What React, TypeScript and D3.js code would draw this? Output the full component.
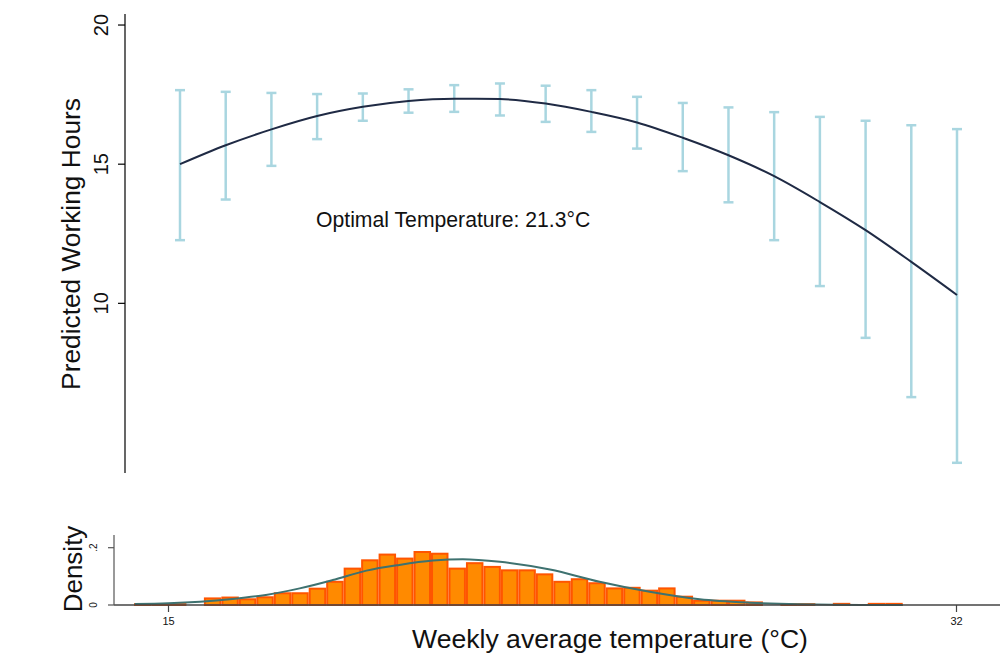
import React, { useEffect } from "react";
import * as d3 from "d3";

// ---- Data ----
const temps = [15, 16, 17, 18, 19, 20, 21, 22, 23, 24, 25, 26, 27, 28, 29, 30, 31, 32];
const predicted = [15.0, 15.68, 16.25, 16.73, 17.06, 17.27, 17.35, 17.34, 17.18, 16.88, 16.5, 15.95, 15.32, 14.57, 13.64, 12.63, 11.49, 10.3];
const upperCI = [17.66, 17.6, 17.56, 17.52, 17.54, 17.69, 17.84, 17.9, 17.82, 17.66, 17.42, 17.2, 17.04, 16.87, 16.7, 16.56, 16.4, 16.26];
const lowerCI = [12.27, 13.73, 14.94, 15.9, 16.56, 16.85, 16.88, 16.75, 16.52, 16.16, 15.56, 14.75, 13.63, 12.27, 10.62, 8.76, 6.63, 4.27];

const yTicksTop = [10, 15, 20];
const xTicksBottom = [15, 32];
const yTicksBottom = [0, 0.2];
const yTickLabelsBottom = ["0", ".2"];

const binStart = 14.256;
const binWidth = 0.3769;
const histDensity = [
  0.003, 0.003, 0.003, 0, 0.023, 0.026, 0.02, 0.027, 0.041, 0.041,
  0.057, 0.081, 0.127, 0.156, 0.176, 0.162, 0.185, 0.179, 0.127, 0.146,
  0.133, 0.121, 0.121, 0.107, 0.081, 0.09, 0.076, 0.058, 0.06, 0.05,
  0.058, 0.029, 0.015, 0.015, 0.015, 0.009, 0, 0.003, 0.003, 0,
  0.004, 0, 0.004, 0.004,
];

const densTemp = [14.27, 15.0, 15.68, 16.38, 17.1, 17.83, 18.54, 19.27, 19.98, 20.7, 21.35, 22.15, 23.23, 24.3, 25.38, 26.46, 27.54, 28.61, 29.33, 30.0, 30.84];
const densValue = [0.0035, 0.006, 0.0115, 0.021, 0.035, 0.058, 0.087, 0.12, 0.14, 0.155, 0.16, 0.151, 0.124, 0.081, 0.046, 0.02, 0.008, 0.0025, 0.001, 0.0004, 0.0001];

const annotation = "Optimal Temperature: 21.3°C";
const yTitleTop = "Predicted Working Hours";
const yTitleBottom = "Density";
const xTitle = "Weekly average temperature (°C)";

const FONT = "'Liberation Sans', Arial, Helvetica, sans-serif";

export default function App() {
  useEffect(() => {
    document.body.style.margin = "0";
  }, []);

  const W = 1000;
  const H = 669;

  // top panel scales
  const xTop = d3.scaleLinear().domain([15, 32]).range([180, 957]);
  const yTop = d3.scaleLinear().domain([3.9, 20.4]).range([473.1, 13.9]);

  // bottom panel scales
  const xBot = d3.scaleLinear().domain([15, 32]).range([168.5, 956.5]);
  const yBot = d3.scaleLinear().domain([0, 0.2]).range([605, 547.7]);
  const xBotDomain = [xBot.invert(114), xBot.invert(1000)];
  const yBotTop = yBot.invert(535);

  const line = d3
    .line<number>()
    .x((_, i) => xTop(temps[i]))
    .y((d) => yTop(d))
    .curve(d3.curveMonotoneX);

  const densLine = d3
    .line<number>()
    .x((_, i) => xBot(densTemp[i]))
    .y((d) => yBot(d))
    .curve(d3.curveMonotoneX);

  const axisXTop = yTop.range()[0];
  const topAxisX = 125;
  const botAxisX = 114;
  const cap = 5;

  return (
    <svg width={W} height={H} style={{ position: "absolute", left: 0, top: 0, background: "#fff" }} fontFamily={FONT}>
      <rect x={0} y={0} width={W} height={H} fill="#fff" />

      {/* Top panel y axis */}
      <line x1={topAxisX} x2={topAxisX} y1={yTop(20.4)} y2={axisXTop} stroke="#000" strokeWidth={1.2} />
      {yTicksTop.map((t) => (
        <g key={t}>
          <line x1={topAxisX - 7} x2={topAxisX} y1={yTop(t)} y2={yTop(t)} stroke="#000" strokeWidth={1.2} />
          <text
            transform={`translate(108,${yTop(t)}) rotate(-90)`}
            textAnchor="middle"
            fontSize={20}
            fill="#111"
          >
            {t}
          </text>
        </g>
      ))}
      <text transform={`translate(80,244) rotate(-90)`} textAnchor="middle" fontSize={26.3} fill="#111">
        {yTitleTop}
      </text>

      {/* Error bars */}
      {temps.map((t, i) => (
        <g key={"eb" + i} stroke="#a9d6e0" strokeWidth={2.5}>
          <line x1={xTop(t)} x2={xTop(t)} y1={yTop(upperCI[i])} y2={yTop(lowerCI[i])} />
          <line x1={xTop(t) - cap} x2={xTop(t) + cap} y1={yTop(upperCI[i])} y2={yTop(upperCI[i])} />
          <line x1={xTop(t) - cap} x2={xTop(t) + cap} y1={yTop(lowerCI[i])} y2={yTop(lowerCI[i])} />
        </g>
      ))}

      {/* Predicted line */}
      <path d={line(predicted) || ""} fill="none" stroke="#1f2a44" strokeWidth={2} />

      <text x={316} y={227} fontSize={21.2} fill="#111">
        {annotation}
      </text>

      {/* Bottom panel histogram */}
      {histDensity.map((d, i) => {
        if (d <= 0) return null;
        const x0 = xBot(binStart + i * binWidth);
        const x1 = xBot(binStart + (i + 1) * binWidth);
        const y0 = yBot(d);
        return (
          <rect
            key={"h" + i}
            x={x0 + 1}
            y={y0}
            width={x1 - x0 - 2}
            height={Math.max(yBot(0) - y0, 0.8)}
            fill="#ff8a00"
            stroke="#ff5500"
            strokeWidth={2}
          />
        );
      })}

      {/* density curve */}
      <path d={densLine(densValue) || ""} fill="none" stroke="#3e7270" strokeWidth={2} />

      {/* bottom axes */}
      <line x1={xBot(xBotDomain[0])} x2={xBot(xBotDomain[1])} y1={yBot(0)} y2={yBot(0)} stroke="#444" strokeWidth={1.3} />
      <line x1={botAxisX} x2={botAxisX} y1={yBot(yBotTop)} y2={yBot(0)} stroke="#555" strokeWidth={1.2} />
      {yTicksBottom.map((t, i) => (
        <g key={"yb" + t}>
          <line x1={botAxisX - 6} x2={botAxisX} y1={yBot(t)} y2={yBot(t)} stroke="#555" strokeWidth={1.2} />
          <text transform={`translate(97,${yBot(t)}) rotate(-90)`} textAnchor="middle" fontSize={10} fill="#111">
            {yTickLabelsBottom[i]}
          </text>
        </g>
      ))}
      {xTicksBottom.map((t) => (
        <g key={"xb" + t}>
          <line x1={xBot(t)} x2={xBot(t)} y1={yBot(0)} y2={yBot(0) + 7} stroke="#444" strokeWidth={1.2} />
          <text x={xBot(t)} y={625} textAnchor="middle" fontSize={11} fill="#111">
            {t}
          </text>
        </g>
      ))}
      <text transform={`translate(82,569) rotate(-90)`} textAnchor="middle" fontSize={26} fill="#111">
        {yTitleBottom}
      </text>
      <text x={610} y={648} textAnchor="middle" fontSize={26.6} fill="#111">
        {xTitle}
      </text>
    </svg>
  );
}
